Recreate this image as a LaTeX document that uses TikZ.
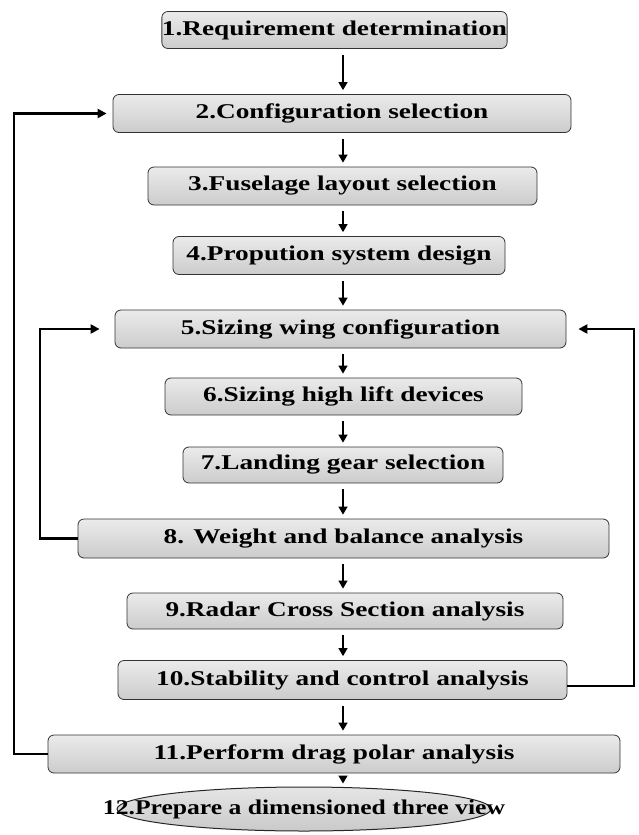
\documentclass[tikz,border=0pt]{standalone}
\usepackage{fontspec}
\usepackage{graphicx}
\setmainfont{Liberation Serif}
\usetikzlibrary{arrows.meta,shapes.geometric}
\tikzset{
  box/.style={draw=black!80, line width=0.8pt, rounded corners=6pt,
    top color=gray!16, bottom color=gray!40, inner sep=0pt,
    font=\fontsize{21}{23}\selectfont\bfseries},
  oval/.style={draw=black!85, line width=1pt, top color=gray!20, bottom color=gray!42},
  lbl/.style={inner sep=0pt, font=\fontsize{21}{23}\selectfont\bfseries},
  arr/.style={line width=1.5pt, -{Triangle[length=8pt,width=9pt]}, shorten <=6pt, shorten >=4pt},
  fb/.style={line width=2.2pt, -{Triangle[length=9pt,width=9pt]}},
}
\newcommand{\wide}[1]{\scalebox{1.3}[1]{#1}}
\begin{document}
\begin{tikzpicture}[x=1pt,y=-1pt]
\useasboundingbox (0,0) rectangle (638,835);
\node[box, minimum width=340pt, minimum height=37pt] (b1) at (334.5,30) {\wide{1.Requirement determination}};
\node[box, minimum width=458pt, minimum height=38pt] (b2) at (342,113.5) {\wide{2.Configuration selection}};
\node[box, minimum width=389pt, minimum height=38pt] (b3) at (342.5,186) {\wide{3.Fuselage layout selection}};
\node[box, minimum width=332pt, minimum height=38pt] (b4) at (339,255.5) {\wide{4.Propution system design}};
\node[box, minimum width=451pt, minimum height=38pt] (b5) at (340.5,329) {\wide{5.Sizing wing configuration}};
\node[box, minimum width=357pt, minimum height=37pt] (b6) at (343.5,396.5) {\wide{6.Sizing high lift devices}};
\node[box, minimum width=320pt, minimum height=36pt] (b7) at (343,465) {\wide{7.Landing gear selection}};
\node[box, minimum width=531pt, minimum height=39pt] (b8) at (343.5,538.5) {\wide{8. Weight and balance analysis}};
\node[box, minimum width=436pt, minimum height=36pt] (b9) at (345,611) {\wide{9.Radar Cross Section analysis}};
\node[box, minimum width=449pt, minimum height=39pt] (b10) at (342.5,680) {\wide{10.Stability and control analysis}};
\node[box, minimum width=572pt, minimum height=38pt] (b11) at (334,754) {\wide{11.Perform drag polar analysis}};
\coordinate (c12) at (304,809);
\coordinate (top12) at (304,787.5);
\path[oval] (c12) ellipse [x radius=187, y radius=22];
\node[lbl] (b12) at (c12) {\scalebox{1.22}[1]{12.Prepare a dimensioned three view}};

\coordinate (ax) at (343,0);
\foreach \a/\b in {b1/b2,b2/b3,b3/b4,b4/b5,b5/b6,b6/b7,b7/b8,b8/b9,b9/b10,b10/b11}
  \draw[arr] (\a.south -| ax) -- (\b.north -| ax);
\draw[arr] (b11.south -| ax) -- (top12 -| ax);

\coordinate (l1) at (14,0);
\coordinate (l2) at (40,0);
\coordinate (r1) at (634,0);
\draw[fb, shorten >=6pt] (b11.west) -- (b11.west -| l1) -- (b2.west -| l1) -- (b2.west);
\draw[fb, shorten >=15pt] (b8.west) -- (b8.west -| l2) -- (b5.west -| l2) -- (b5.west);
\draw[fb, shorten >=12pt] ([yshift=-6pt]b10.east) -- ([yshift=-6pt]b10.east -| r1) -- (b5.east -| r1) -- (b5.east);
\end{tikzpicture}
\end{document}
